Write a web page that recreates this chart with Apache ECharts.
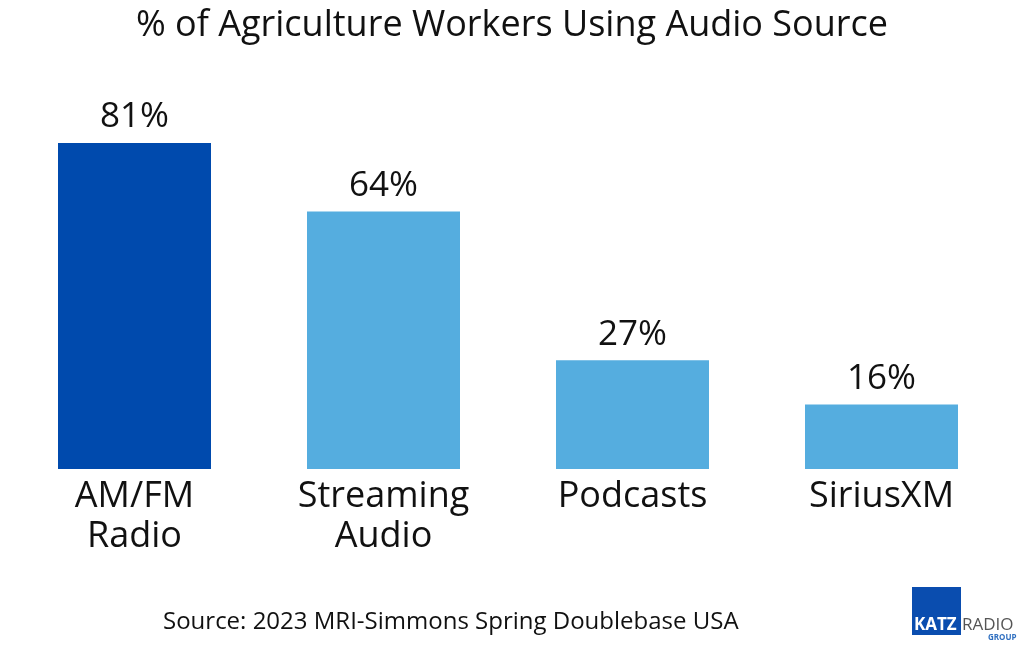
<!DOCTYPE html>
<html><head><meta charset="utf-8">
<script src="https://cdn.jsdelivr.net/npm/echarts@6/dist/echarts.min.js"></script>
<style>html,body{margin:0;padding:0;background:#fff}#c{width:1024px;height:650px}</style>
</head><body><div id="c"></div>
<script>
var categories = ['AM/FM\nRadio', 'Streaming\nAudio', 'Podcasts', 'SiriusXM'];
var values = [81, 64, 27, 16];
var barColors = ['#004AAD', '#55ADDF', '#55ADDF', '#55ADDF'];
var FONT = 'Open Sans';
var chart = echarts.init(document.getElementById('c'));
chart.setOption({
  backgroundColor: '#fff',
  animation: false,
  title: {
    text: '% of Agriculture Workers Using Audio Source',
    left: 'center', top: 3,
    textStyle: {fontFamily: FONT, fontSize: 36, fontWeight: 'normal', color: '#111'}
  },
  grid: {left: 10, right: 18, top: 66.5, bottom: 181},
  xAxis: {
    type: 'category', data: categories,
    axisLine: {show: false}, axisTick: {show: false},
    axisLabel: {fontFamily: FONT, fontSize: 36, color: '#111', lineHeight: 40, margin: 8, interval: 0}
  },
  yAxis: {type: 'value', min: 0, max: 100, show: false, splitLine: {show: false}},
  series: [{
    type: 'bar', barWidth: 153,
    data: values.map(function (v, i) { return {value: v, itemStyle: {color: barColors[i]}}; }),
    label: {show: true, position: 'top', distance: 8, formatter: '{c}%',
      fontFamily: FONT, fontSize: 35, color: '#111'}
  }],
  graphic: [
    {type: 'text', left: 163, top: 610, style: {text: 'Source: 2023 MRI-Simmons Spring Doublebase USA', font: '24px "Open Sans"', fill: '#111'}},
    {type: 'rect', shape: {x: 912, y: 587, width: 49, height: 48}, style: {fill: '#0A4DAF'}},
    {type: 'text', x: 914, y: 617, style: {text: 'KATZ', font: 'bold 17px "Open Sans"', fill: '#fff'}},
    {type: 'text', x: 962, y: 617, style: {text: 'RADIO', font: '17px "Open Sans"', fill: '#555'}},
    {type: 'text', x: 988, y: 634, style: {text: 'GROUP', font: 'bold 8px "Open Sans"', fill: '#2f6fc0'}}
  ]
});
</script></body></html>
